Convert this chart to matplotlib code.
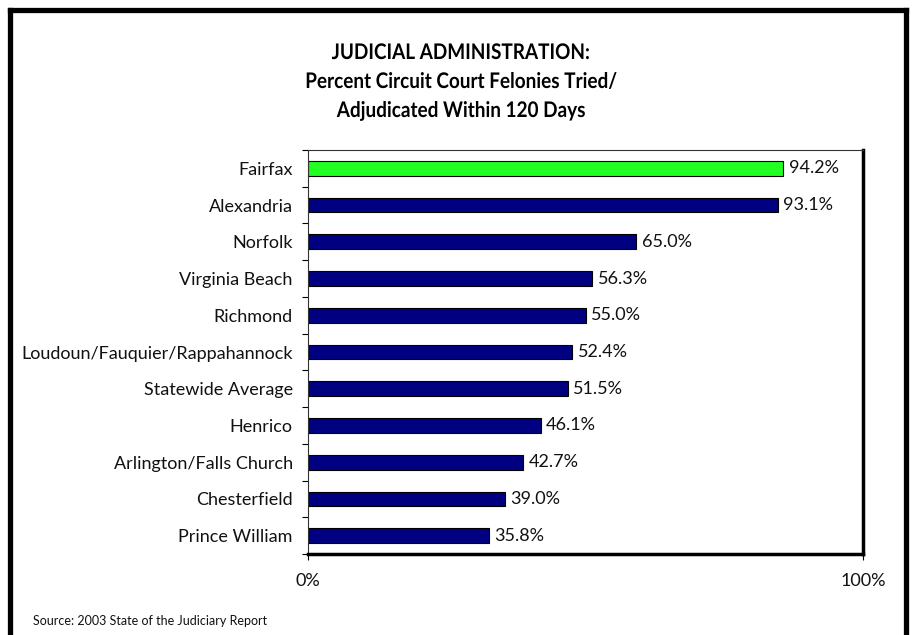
import matplotlib
matplotlib.use("Agg")
import matplotlib.pyplot as plt
from matplotlib.patheffects import AbstractPathEffect
from matplotlib.transforms import Affine2D
from matplotlib.path import Path
import numpy as np

categories = ["Fairfax", "Alexandria", "Norfolk", "Virginia Beach", "Richmond",
              "Loudoun/Fauquier/Rappahannock", "Statewide Average", "Henrico",
              "Arlington/Falls Church", "Chesterfield", "Prince William"]
values = [94.2, 93.1, 65.0, 56.3, 55.0, 52.4, 51.5, 46.1, 42.7, 39.0, 35.8]
colors = ["#22FF22"] + ["#000080"] * 10
xtick_values = [0, 110]
xtick_labels = ["0%", "100%"]
title_lines = ["JUDICIAL ADMINISTRATION:", "Percent Circuit Court Felonies Tried/",
               "Adjudicated Within 120 Days"]


class Condense(AbstractPathEffect):
    """Horizontally condense text glyphs around the line centre."""
    def __init__(self, sx):
        super().__init__()
        self.sx = sx

    def draw_path(self, renderer, gc, tpath, affine, rgbFace=None):
        verts = tpath.vertices
        if tpath.codes is not None:
            verts = verts[tpath.codes != Path.CLOSEPOLY]
        v = affine.transform(verts)
        cx = (v[:, 0].min() + v[:, 0].max()) / 2
        t = affine + Affine2D().translate(-cx, 0).scale(self.sx, 1).translate(cx, 0)
        renderer.draw_path(gc, tpath, t, rgbFace)


lab_font = ["Lato", "DejaVu Sans"]
title_font = ["Lato", "DejaVu Sans"]

fig = plt.figure(figsize=(9.14, 6.35), dpi=100)
ax = fig.add_axes([308/914, 1-554/635, (863-308)/914, (554-150)/635])

y = np.arange(len(categories))
ax.barh(y, values, height=0.40, color=colors, edgecolor="black", linewidth=0.8)
for yi, v in zip(y, values):
    ax.text(v + 1.1, yi, f"{v:.1f}%", va="center", ha="left", fontsize=13,
            family=lab_font, color="#111111")

ax.set_xlim(0, 110)
ax.set_ylim(len(categories) - 0.5, -0.5)
ax.set_yticks(y)
ax.set_yticklabels(categories, family=lab_font, fontsize=13, color="#111111")
ax.set_yticks(np.arange(len(categories) + 1) - 0.5, minor=True)
ax.tick_params(axis="y", which="major", length=0, pad=11)
ax.tick_params(axis="y", which="minor", length=4, width=0.8, direction="out")
ax.set_xticks(xtick_values)
ax.set_xticklabels(xtick_labels, family=lab_font, fontsize=13, color="#111111")
ax.tick_params(axis="x", length=4, width=0.8, pad=10)

for s in ["left", "top"]:
    ax.spines[s].set_linewidth(0.8)
    ax.spines[s].set_color("#333333")
for s in ["right", "bottom"]:
    ax.spines[s].set_linewidth(2.5)
    ax.spines[s].set_color("black")

for line, ypix in zip(title_lines, [59, 88, 117]):
    fig.text(461/914, 1-ypix/635, line, ha="center", va="baseline",
             fontsize=15.5, fontweight="bold", family=title_font,
             path_effects=[Condense(0.88)])

fig.text(33/914, 1-621/635, "Source: 2003 State of the Judiciary Report", ha="left", va="center",
         fontsize=9, family=lab_font, color="#111111")

# figure border (left, top, right)
for xs, ys in [([9.5/914, 9.5/914], [0, 1-10/635]),
               ([9.5/914, 906/914], [1-10/635, 1-10/635]),
               ([906/914, 906/914], [0, 1-10/635])]:
    fig.add_artist(plt.Line2D(xs, ys, transform=fig.transFigure,
                              color="black", linewidth=3.8, solid_capstyle="projecting"))

fig.savefig("out.png", dpi=100)
